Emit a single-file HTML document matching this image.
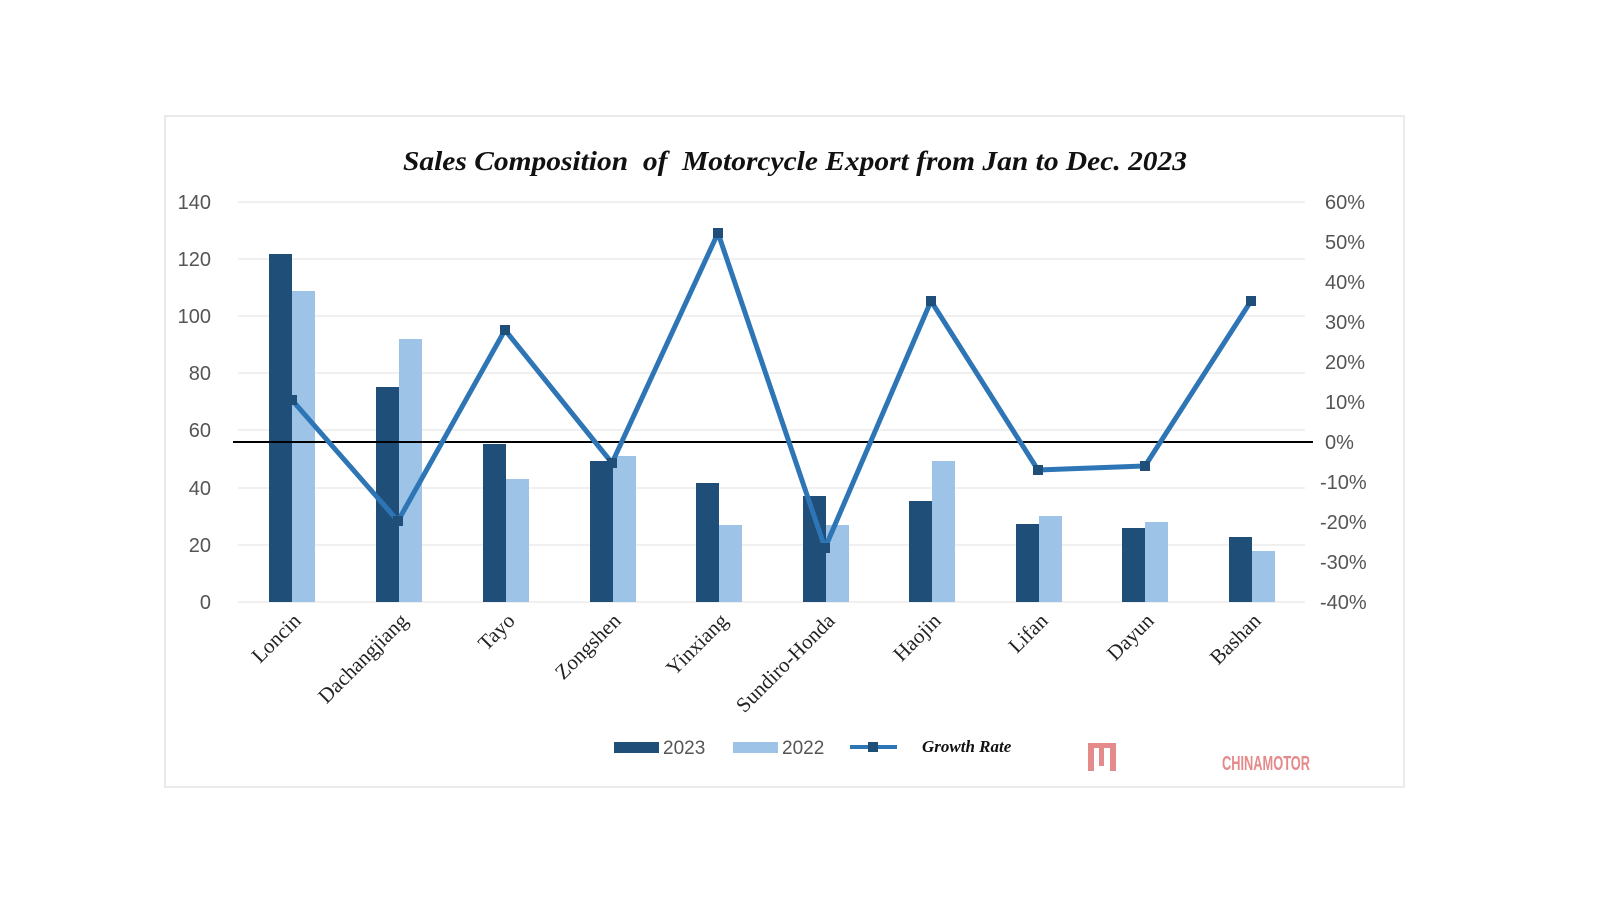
<!DOCTYPE html>
<html><head><meta charset="utf-8"><style>
html,body{margin:0;padding:0;background:#fff;width:1600px;height:900px;overflow:hidden}
</style></head><body>
<svg width="1600" height="900" xmlns="http://www.w3.org/2000/svg">
<rect x="165" y="116" width="1239" height="671" fill="#fff" stroke="#e4e4e4" stroke-width="1.5"/>
<text x="403" y="170" font-family="Liberation Serif, serif" font-style="italic" font-weight="bold" font-size="27" fill="#111" textLength="784" lengthAdjust="spacingAndGlyphs" xml:space="preserve">Sales Composition  of  Motorcycle Export from Jan to Dec. 2023</text>
<g stroke="#e6e6e6" stroke-width="1.2">
<line x1="238" y1="202" x2="1305" y2="202"/><line x1="238" y1="259" x2="1305" y2="259"/>
<line x1="238" y1="316" x2="1305" y2="316"/><line x1="238" y1="373" x2="1305" y2="373"/>
<line x1="238" y1="430" x2="1305" y2="430"/><line x1="238" y1="488" x2="1305" y2="488"/>
<line x1="238" y1="545" x2="1305" y2="545"/><line x1="238" y1="602" x2="1305" y2="602"/>
</g>
<g font-family="Liberation Sans, sans-serif" font-size="20" fill="#555" text-anchor="end">
<text x="211" y="209">140</text><text x="211" y="266">120</text><text x="211" y="323">100</text>
<text x="211" y="380">80</text><text x="211" y="437">60</text><text x="211" y="495">40</text>
<text x="211" y="552">20</text><text x="211" y="609">0</text>
</g>
<g font-family="Liberation Sans, sans-serif" font-size="20" fill="#555" text-anchor="start">
<text x="1325" y="209">60%</text><text x="1325" y="249">50%</text><text x="1325" y="289">40%</text>
<text x="1325" y="329">30%</text><text x="1325" y="369">20%</text><text x="1325" y="409">10%</text>
<text x="1325" y="449">0%</text><text x="1320" y="489">-10%</text><text x="1320" y="529">-20%</text>
<text x="1320" y="569">-30%</text><text x="1320" y="609">-40%</text>
</g>
<g fill="#1f4e79">
<rect x="269" y="254" width="23" height="348"/><rect x="376" y="387" width="23" height="215"/>
<rect x="483" y="444" width="23" height="158"/><rect x="590" y="461" width="23" height="141"/>
<rect x="696" y="483" width="23" height="119"/><rect x="803" y="496" width="23" height="106"/>
<rect x="909" y="501" width="23" height="101"/><rect x="1016" y="524" width="23" height="78"/>
<rect x="1122" y="528" width="23" height="74"/><rect x="1229" y="537" width="23" height="65"/>
</g>
<g fill="#9dc3e6">
<rect x="292" y="291" width="23" height="311"/><rect x="399" y="339" width="23" height="263"/>
<rect x="506" y="479" width="23" height="123"/><rect x="613" y="456" width="23" height="146"/>
<rect x="719" y="525" width="23" height="77"/><rect x="826" y="525" width="23" height="77"/>
<rect x="932" y="461" width="23" height="141"/><rect x="1039" y="516" width="23" height="86"/>
<rect x="1145" y="522" width="23" height="80"/><rect x="1252" y="551" width="23" height="51"/>
</g>
<line x1="233" y1="442" x2="1313" y2="442" stroke="#000" stroke-width="2"/>
<polyline points="292,400 398,521 505,330 612,463 718,233 825,548 931,301 1038,470 1145,466 1251,301" fill="none" stroke="#2e75b6" stroke-width="5" stroke-linejoin="round"/>
<g fill="#1f4e79">
<rect x="287" y="395" width="10" height="10"/><rect x="393" y="516" width="10" height="10"/>
<rect x="500" y="325" width="10" height="10"/><rect x="607" y="458" width="10" height="10"/>
<rect x="713" y="228" width="10" height="10"/><rect x="820" y="543" width="10" height="10"/>
<rect x="926" y="296" width="10" height="10"/><rect x="1033" y="465" width="10" height="10"/>
<rect x="1140" y="461" width="10" height="10"/><rect x="1246" y="296" width="10" height="10"/>
</g>
<g font-family="Liberation Serif, serif" font-size="21" fill="#222" text-anchor="end">
<text transform="translate(302,622) rotate(-45)">Loncin</text>
<text transform="translate(409,622) rotate(-45)">Dachangjiang</text>
<text transform="translate(516,622) rotate(-45)">Tayo</text>
<text transform="translate(622,622) rotate(-45)">Zongshen</text>
<text transform="translate(729,622) rotate(-45)">Yinxiang</text>
<text transform="translate(836,622) rotate(-45)">Sundiro-Honda</text>
<text transform="translate(942,622) rotate(-45)">Haojin</text>
<text transform="translate(1049,622) rotate(-45)">Lifan</text>
<text transform="translate(1155,622) rotate(-45)">Dayun</text>
<text transform="translate(1262,622) rotate(-45)">Bashan</text>
</g>
<rect x="614" y="742" width="45" height="11" fill="#1f4e79"/>
<text x="663" y="754" font-family="Liberation Sans, sans-serif" font-size="19" fill="#555">2023</text>
<rect x="733" y="742" width="45" height="11" fill="#9dc3e6"/>
<text x="782" y="754" font-family="Liberation Sans, sans-serif" font-size="19" fill="#555">2022</text>
<line x1="850" y1="747" x2="897" y2="747" stroke="#2e75b6" stroke-width="4"/>
<rect x="868" y="742" width="10" height="10" fill="#1f4e79"/>
<text x="922" y="752" font-family="Liberation Serif, serif" font-style="italic" font-weight="bold" font-size="17" fill="#111">Growth Rate</text>
<g fill="#e58a8a">
<rect x="1088" y="743" width="28" height="5"/>
<rect x="1088" y="743" width="6" height="28"/><rect x="1110" y="743" width="6" height="28"/>
<rect x="1099" y="748" width="5" height="18"/>
</g>
<text x="1222" y="770" font-family="Liberation Sans, sans-serif" font-weight="bold" font-size="20" fill="#e58a8a" textLength="88" lengthAdjust="spacingAndGlyphs">CHINAMOTOR</text>
</svg>
</body></html>
